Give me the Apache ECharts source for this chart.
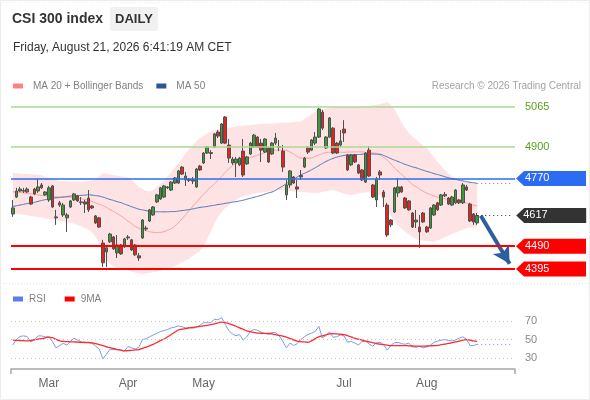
<!DOCTYPE html>
<html>
<head>
<meta charset="utf-8">
<title>CSI 300 index</title>
<script src="https://cdn.jsdelivr.net/npm/echarts@6.0.0/dist/echarts.min.js"></script>
<style>
  html, body { margin: 0; padding: 0; background: #fff; }
  #chart { width: 590px; height: 400px; }
</style>
</head>
<body>
<div id="chart"></div>
<script>
// calendar: trading days from the first bar, exchange holidays skipped, 10 blank days on the right
const firstDay = '2026-02-06'
const dayCount = 140
const holidays = ['2026-02-16', '2026-02-17', '2026-02-18', '2026-02-19', '2026-02-20', '2026-02-23',
  '2026-04-06', '2026-05-01', '2026-05-04', '2026-05-05', '2026-06-19']
const monthTicks = ['Mar', 'Apr', 'May', 'Jul', 'Aug']

// daily bars
const opens = [4623, 4693, 4718, 4720, 4714, 4693, 4726, 4718, 4743, 4702,
  4681, 4739, 4611, 4669, 4619, 4607, 4652, 4681, 4698, 4673,
  4673, 4689, 4656, 4615, 4607, 4503, 4466, 4508, 4528, 4462,
  4495, 4487, 4524, 4516, 4495, 4450, 4524, 4561, 4594, 4619,
  4673, 4685, 4693, 4731, 4722, 4751, 4751, 4817, 4764, 4766,
  4759, 4735, 4821, 4834, 4875, 4877, 4900, 4962, 4916, 5024,
  4908, 4834, 4834, 4826, 4883, 4830, 4871, 4900, 4941, 4916,
  4879, 4896, 4871, 4916, 4902, 4883, 4702, 4743, 4776, 4735,
  4776, 4817, 4896, 4887, 4916, 4941, 5044, 4896, 4941, 4978,
  4916, 4908, 4974, 4867, 4826, 4867, 4826, 4805, 4755, 4887,
  4743, 4681, 4797, 4714, 4660, 4598, 4631, 4710, 4735, 4689,
  4677, 4627, 4590, 4569, 4627, 4569, 4565, 4619, 4669, 4660,
  4698, 4689, 4660, 4669, 4681, 4669, 4735, 4664, 4623, 4586]
const closes = [4648, 4718, 4726, 4717, 4726, 4664, 4706, 4735, 4731, 4714,
  4731, 4652, 4607, 4660, 4660, 4619, 4677, 4706, 4677, 4670,
  4664, 4640, 4648, 4586, 4569, 4421, 4483, 4540, 4479, 4495,
  4458, 4520, 4528, 4474, 4454, 4441, 4598, 4565, 4640, 4652,
  4702, 4731, 4739, 4735, 4755, 4772, 4801, 4788, 4780, 4762,
  4764, 4809, 4805, 4875, 4900, 4873, 4954, 4945, 4995, 4916,
  4854, 4850, 4850, 4854, 4784, 4859, 4916, 4949, 4900, 4887,
  4933, 4838, 4916, 4937, 4898, 4817, 4743, 4801, 4751, 4726,
  4782, 4854, 4879, 4929, 4941, 5057, 4978, 4941, 5020, 4875,
  4875, 4925, 4958, 4805, 4867, 4838, 4792, 4764, 4875, 4780,
  4693, 4768, 4784, 4693, 4536, 4578, 4731, 4735, 4714, 4648,
  4640, 4569, 4598, 4549, 4590, 4549, 4648, 4660, 4640, 4702,
  4704, 4664, 4693, 4722, 4669, 4743, 4722, 4594, 4590, 4617]
const lows = [4611, 4689, 4714, 4710, 4710, 4660, 4702, 4710, 4726, 4698,
  4673, 4648, 4578, 4652, 4611, 4549, 4648, 4677, 4673, 4660,
  4627, 4631, 4644, 4582, 4565, 4404, 4404, 4503, 4474, 4441,
  4454, 4483, 4516, 4470, 4450, 4429, 4520, 4553, 4590, 4615,
  4669, 4681, 4689, 4726, 4718, 4747, 4747, 4784, 4739, 4755,
  4747, 4731, 4801, 4830, 4871, 4850, 4896, 4937, 4912, 4912,
  4834, 4826, 4776, 4821, 4776, 4826, 4867, 4896, 4896, 4838,
  4875, 4834, 4867, 4908, 4883, 4797, 4681, 4731, 4747, 4689,
  4764, 4813, 4871, 4883, 4908, 4937, 4970, 4892, 4937, 4871,
  4871, 4900, 4921, 4801, 4821, 4834, 4788, 4759, 4751, 4776,
  4689, 4652, 4764, 4652, 4528, 4569, 4627, 4693, 4710, 4644,
  4636, 4565, 4565, 4483, 4586, 4545, 4561, 4615, 4636, 4656,
  4693, 4660, 4656, 4664, 4664, 4664, 4718, 4590, 4578, 4578]
const highs = [4681, 4731, 4735, 4731, 4733, 4698, 4731, 4768, 4751, 4718,
  4739, 4743, 4640, 4677, 4669, 4627, 4681, 4710, 4702, 4693,
  4681, 4722, 4660, 4619, 4611, 4516, 4495, 4545, 4532, 4536,
  4499, 4524, 4536, 4520, 4499, 4462, 4602, 4574, 4644, 4656,
  4706, 4735, 4743, 4739, 4759, 4776, 4805, 4821, 4797, 4772,
  4776, 4813, 4826, 4879, 4904, 4887, 4958, 4970, 4999, 5028,
  4933, 4859, 4859, 4859, 4933, 4863, 4921, 4954, 4945, 4933,
  4937, 4900, 4921, 4958, 4929, 4908, 4764, 4805, 4780, 4764,
  4805, 4859, 4904, 4933, 4962, 5061, 5053, 4945, 5024, 4982,
  4921, 4970, 5011, 4871, 4871, 4871, 4830, 4809, 4879, 4904,
  4747, 4776, 4805, 4722, 4669, 4602, 4735, 4772, 4739, 4693,
  4681, 4631, 4640, 4619, 4631, 4574, 4652, 4664, 4673, 4706,
  4714, 4693, 4698, 4726, 4685, 4751, 4743, 4669, 4627, 4627]

// overlays
const ma20 = [4715, 4713, 4712, 4710, 4708, 4706, 4705, 4702, 4700, 4698,
  4696, 4695, 4694, 4694, 4693, 4693, 4692, 4691, 4688, 4686,
  4683, 4681, 4675, 4669, 4663, 4657, 4650, 4641, 4633, 4624,
  4615, 4605, 4593, 4583, 4572, 4564, 4559, 4554, 4550, 4547,
  4546, 4547, 4550, 4556, 4562, 4573, 4587, 4603, 4620, 4638,
  4655, 4672, 4689, 4705, 4720, 4734, 4748, 4762, 4778, 4795,
  4810, 4822, 4833, 4841, 4847, 4852, 4857, 4861, 4866, 4871,
  4876, 4881, 4885, 4887, 4887, 4887, 4885, 4879, 4871, 4861,
  4854, 4854, 4854, 4855, 4861, 4867, 4872, 4877, 4878, 4878,
  4878, 4878, 4878, 4879, 4879, 4880, 4880, 4880, 4878, 4876,
  4875, 4874, 4867, 4857, 4845, 4830, 4814, 4800, 4786, 4773,
  4759, 4745, 4736, 4726, 4717, 4709, 4703, 4698, 4692, 4688,
  4686, 4683, 4682, 4680, 4677, 4673, 4669, 4664, 4660, 4656]
const ma50 = [4654, 4657, 4660, 4663, 4666, 4668, 4671, 4675, 4679, 4682,
  4686, 4688, 4690, 4691, 4693, 4695, 4697, 4698, 4699, 4700,
  4701, 4702, 4701, 4699, 4697, 4693, 4688, 4683, 4679, 4674,
  4670, 4664, 4659, 4653, 4648, 4643, 4640, 4637, 4634, 4633,
  4632, 4632, 4632, 4632, 4633, 4633, 4635, 4637, 4639, 4641,
  4644, 4647, 4650, 4652, 4654, 4657, 4659, 4662, 4664, 4667,
  4669, 4672, 4674, 4677, 4680, 4684, 4688, 4692, 4696, 4700,
  4705, 4710, 4714, 4721, 4730, 4739, 4749, 4759, 4767, 4776,
  4785, 4791, 4798, 4806, 4814, 4823, 4832, 4840, 4847, 4853,
  4858, 4862, 4865, 4867, 4868, 4869, 4869, 4870, 4871, 4871,
  4871, 4870, 4870, 4865, 4859, 4852, 4846, 4840, 4834, 4828,
  4823, 4818, 4814, 4809, 4804, 4799, 4795, 4790, 4786, 4782,
  4777, 4773, 4769, 4766, 4763, 4760, 4757, 4754, 4752, 4750]
const bbUpper = [4793, 4791, 4790, 4789, 4788, 4787, 4786, 4785, 4783, 4778,
  4773, 4768, 4763, 4759, 4759, 4758, 4757, 4757, 4756, 4756,
  4757, 4759, 4762, 4764, 4778, 4791, 4789, 4786, 4783, 4781,
  4779, 4776, 4773, 4764, 4749, 4735, 4726, 4720, 4716, 4722,
  4735, 4749, 4759, 4778, 4797, 4815, 4834, 4852, 4873, 4892,
  4908, 4923, 4937, 4947, 4956, 4964, 4969, 4973, 4977, 4978,
  4980, 4982, 4985, 4987, 4987, 4989, 4991, 4992, 4994, 4995,
  4996, 4997, 4997, 4998, 4999, 5000, 5000, 5001, 5002, 5003,
  5005, 5015, 5026, 5036, 5047, 5055, 5058, 5059, 5060, 5062,
  5063, 5065, 5065, 5065, 5065, 5065, 5065, 5067, 5069, 5071,
  5073, 5075, 5077, 5082, 5086, 5075, 5057, 5028, 5001, 4978,
  4958, 4943, 4931, 4918, 4906, 4896, 4877, 4859, 4838, 4821,
  4805, 4790, 4778, 4772, 4766, 4759, 4755, 4752, 4749, 4747]
const bbLower = [4627, 4624, 4622, 4620, 4618, 4615, 4613, 4611, 4608, 4605,
  4603, 4600, 4598, 4595, 4593, 4590, 4587, 4583, 4577, 4571,
  4565, 4560, 4547, 4528, 4503, 4466, 4433, 4417, 4406, 4402,
  4397, 4393, 4389, 4384, 4381, 4377, 4375, 4377, 4380, 4382,
  4384, 4388, 4392, 4396, 4402, 4408, 4415, 4423, 4430, 4439,
  4450, 4460, 4470, 4491, 4518, 4551, 4584, 4609, 4631, 4648,
  4660, 4671, 4681, 4691, 4695, 4700, 4704, 4707, 4710, 4712,
  4714, 4716, 4718, 4720, 4722, 4721, 4720, 4718, 4717, 4715,
  4714, 4713, 4712, 4711, 4710, 4711, 4714, 4717, 4720, 4722,
  4718, 4712, 4707, 4704, 4702, 4705, 4708, 4710, 4713, 4712,
  4708, 4705, 4702, 4669, 4634, 4614, 4594, 4575, 4561, 4550,
  4540, 4529, 4519, 4515, 4512, 4511, 4509, 4508, 4514, 4520,
  4527, 4534, 4540, 4546, 4553, 4558, 4565, 4567, 4568, 4569]

// RSI panel
const rsi = [44, 50, 53.5, 54, 53.3, 47.5, 50, 54, 54, 52.9,
  53, 48, 41, 43.5, 46, 44, 48, 51.5, 49.5, 47.5,
  47, 47.3, 46, 42.8, 40, 29, 34, 39.5, 39, 39,
  39, 37.5, 42.5, 41, 39.8, 41.5, 50, 50.8, 53, 55,
  56.7, 58.7, 59.8, 61, 62.7, 63.5, 64.8, 64, 62.7, 63,
  62.3, 63.3, 65.8, 68.4, 68.3, 68.5, 72, 71.5, 74, 66.5,
  60, 56, 54.2, 55.4, 49.5, 53, 59, 61, 60, 58,
  56.5, 56, 57.8, 57.5, 54, 48, 41, 46.3, 43.5, 45.5,
  50, 53, 55.5, 57, 58.8, 64.5, 51.8, 54.5, 58.5, 52.5,
  53.2, 55, 54, 47.2, 48, 46.3, 44, 47.8, 48.5, 45,
  42.8, 46.5, 47.2, 44.5, 38.5, 43.5, 46.6, 47, 45.5, 45,
  46.3, 42, 41.7, 42.5, 41, 42, 44, 47, 48.3, 49.4,
  49.9, 49, 48.5, 49.6, 51.5, 53, 50.5, 43.5, 43.5, 45]
const rsiMa = [49.3, 49.2, 49, 48.8, 48.5, 49, 49.8, 50.4, 51, 51.8,
  52.7, 52, 50.3, 48.8, 48, 47.8, 47.6, 47.5, 47.2, 47,
  46.8, 46.6, 46.4, 45.5, 44.5, 43.3, 42.2, 41.2, 40.3, 39.2,
  38.5, 37.7, 38, 38.3, 38.7, 39.2, 40.5, 41.8, 43.2, 44.8,
  46.8, 48.9, 50.6, 53, 55.5, 58, 60.4, 61.3, 62, 62.7,
  63.3, 63.8, 64.3, 64.9, 65.5, 66.3, 67.2, 68.1, 69, 68.5,
  67.3, 66, 64.5, 62.8, 61.2, 59.5, 58.6, 57.7, 57.1, 56.9,
  56.8, 56.6, 56.1, 55.3, 54.5, 53.7, 52.7, 51, 49.8, 48.3,
  47.8, 47.4, 47.1, 48.6, 51, 53, 54.1, 55.1, 56.2, 56.4,
  56.2, 55.8, 55.5, 54.3, 53, 51.4, 50.4, 49.4, 48.4, 47.6,
  46.8, 45.6, 45, 44.5, 44, 43.5, 43.5, 43.5, 43.5, 43.5,
  43.2, 43, 42.9, 42.8, 42.8, 43, 43.2, 43.4, 43.7, 44.4,
  45.1, 45.8, 46.6, 47.4, 48.3, 49.3, 49.9, 49.3, 48.6, 48]
const rsiLevels = [30, 50, 70]

// analyst levels
const resistLevels = [5065, 4900]
const pivotLevel = 4770
const supportLevels = [4490, 4395]
const targetLevel = 4405 // where the arrow points

const monthNames = ['Jan', 'Feb', 'Mar', 'Apr', 'May', 'Jun', 'Jul', 'Aug', 'Sep', 'Oct', 'Nov', 'Dec']

function tradingDays (start, count) {
  const out = []
  const d = new Date(start + 'T00:00:00Z')
  while (out.length < count) {
    const s = d.toISOString().slice(0, 10)
    const wd = d.getUTCDay()
    if (wd !== 0 && wd !== 6 && holidays.indexOf(s) < 0) out.push(s)
    d.setUTCDate(d.getUTCDate() + 1)
  }
  return out
}

const days = tradingDays(firstDay, dayCount)
const last = closes.length - 1
const lastClose = closes[last]

function monthOf (day) {
  return monthNames[+day.slice(5, 7) - 1]
}
function isMonthTick (i) {
  return i > 0 && days[i].slice(5, 7) !== days[i - 1].slice(5, 7) && monthTicks.indexOf(monthOf(days[i])) >= 0
}

const bars = opens.map((o, i) => [o, closes[i], lows[i], highs[i]])
const bandWidth = bbUpper.map((u, i) => u - bbLower[i])

const font = 'Liberation Sans, Arial, sans-serif'
const tagPath = 'path://M0,7.5L8,0L70,0L70,15L8,15Z'

// a level line across the whole grid, with or without a price tag at its right end
function levelLine (value, color, width, tagged) {
  return [
    {
      coord: [-Infinity, value],
      lineStyle: { color: color, width: width, type: 'solid', opacity: 1 },
      label: { formatter: String(value), color: tagged ? '#fff' : '#5ca122' }
    },
    tagged ? { coord: [Infinity, value] } : { coord: [Infinity, value], symbol: 'none' }
  ]
}

const myChart = echarts.init(document.getElementById('chart'), null, { renderer: 'canvas' })

const option = {
  animation: false,
  backgroundColor: '#fff',
  textStyle: { fontFamily: font },
  title: [
    {
      text: '{t|CSI 300 index}{d|DAILY}',
      left: 12,
      top: 7,
      padding: 0,
      textStyle: {
        rich: {
          t: { fontSize: 14, fontWeight: 'bold', color: '#333', fontFamily: font, padding: [0, 7, 0, 0] },
          d: { fontSize: 13, color: '#333', fontFamily: font, backgroundColor: '#f1f1f1', padding: [6, 5, 5, 5], borderRadius: 2 }
        }
      }
    },
    {
      text: 'Friday, August 21, 2026 6:41:19 AM CET',
      left: 13,
      top: 42,
      padding: 0,
      textStyle: { fontSize: 12, fontWeight: 'normal', color: '#333', fontFamily: font }
    },
    {
      text: 'Research © 2026 Trading Central',
      right: 9,
      top: 81,
      padding: 0,
      textStyle: { fontSize: 10, fontWeight: 'normal', color: '#a3a3a3', fontFamily: font }
    }
  ],
  legend: [
    {
      left: 13,
      top: 81,
      padding: 0,
      icon: 'rect',
      itemWidth: 10,
      itemHeight: 5,
      itemGap: 13,
      selectedMode: false,
      textStyle: { fontSize: 10, color: '#808080', fontFamily: font, padding: [0, 0, 0, 5] },
      data: [
        { name: 'MA 20 + Bollinger Bands', itemStyle: { color: '#ff8080' } },
        { name: 'MA 50', itemStyle: { color: '#2f5597' } }
      ]
    },
    {
      left: 13,
      top: 294,
      padding: 0,
      icon: 'rect',
      itemWidth: 10,
      itemHeight: 5,
      itemGap: 19,
      selectedMode: false,
      textStyle: { fontSize: 10, color: '#808080', fontFamily: font, padding: [0, 0, 0, 1] },
      data: [
        { name: 'RSI', itemStyle: { color: '#5b7fe0' } },
        { name: '9MA', itemStyle: { color: '#ff0000' } }
      ]
    }
  ],
  grid: [
    { left: 11, right: 75, top: 95, height: 185, outerBoundsMode: 'none' },
    { left: 11, right: 75, top: 312, height: 57, outerBoundsMode: 'none' }
  ],
  xAxis: [
    { type: 'category', gridIndex: 0, data: days, boundaryGap: true, show: false },
    {
      type: 'category',
      gridIndex: 1,
      data: days,
      boundaryGap: true,
      axisLine: { lineStyle: { color: '#a6a6a6', width: 1.5 } },
      axisTick: { show: true, interval: i => i === 0, length: 5, lineStyle: { color: '#a6a6a6', width: 1.5 } },
      axisLabel: {
        interval: i => isMonthTick(i),
        formatter: v => monthOf(v),
        color: '#666',
        fontSize: 12,
        fontFamily: font,
        margin: 9
      },
      splitLine: { show: false }
    }
  ],
  yAxis: [
    { type: 'value', gridIndex: 0, min: 4350, max: 5115, show: false, splitLine: { show: false } },
    { type: 'value', gridIndex: 1, min: 18, max: 80, show: false, splitLine: { show: false } }
  ],
  series: [
    // Bollinger bands: invisible lower edge plus the stacked band width
    {
      name: 'bbLower',
      type: 'line',
      xAxisIndex: 0,
      yAxisIndex: 0,
      data: bbLower,
      stack: 'band',
      symbol: 'none',
      lineStyle: { opacity: 0 },
      z: 1
    },
    {
      name: 'bbBand',
      type: 'line',
      xAxisIndex: 0,
      yAxisIndex: 0,
      data: bandWidth,
      stack: 'band',
      symbol: 'none',
      lineStyle: { opacity: 0 },
      areaStyle: { color: '#fde3e3', opacity: 1 },
      z: 1
    },
    {
      name: 'MA 20 + Bollinger Bands',
      type: 'line',
      xAxisIndex: 0,
      yAxisIndex: 0,
      data: ma20,
      symbol: 'none',
      smooth: true,
      itemStyle: { color: '#ff8080' },
      lineStyle: { color: '#ff9c9c', width: 1 },
      z: 2
    },
    {
      name: 'MA 50',
      type: 'line',
      xAxisIndex: 0,
      yAxisIndex: 0,
      data: ma50,
      symbol: 'none',
      smooth: true,
      itemStyle: { color: '#2f5597' },
      lineStyle: { color: '#4f72b5', width: 1 },
      z: 2,
      markLine: {
        silent: true,
        symbol: ['none', 'none'],
        label: { show: false },
        data: [
          [
            { coord: [last, ma50[last]], lineStyle: { color: '#8a8a8a', width: 1, type: [1, 3] } },
            { coord: [dayCount - 1, ma50[last]] }
          ],
          [
            { coord: [last + 1, lastClose - 1], lineStyle: { color: '#2d5f9f', width: 4, type: 'solid' } },
            { coord: [dayCount - 2, targetLevel + 12], symbol: 'arrow', symbolSize: [14, 17] }
          ]
        ]
      }
    },
    {
      name: 'CSI 300',
      type: 'candlestick',
      xAxisIndex: 0,
      yAxisIndex: 0,
      data: bars,
      barWidth: 3,
      itemStyle: {
        color: '#3c9a34',
        color0: '#e8221d',
        borderColor: '#505050',
        borderColor0: '#505050',
        borderWidth: 1
      },
      z: 3,
      markLine: {
        silent: true,
        symbol: ['none', tagPath],
        symbolSize: [70, 15],
        symbolOffset: [[0, 0], [36, 0]],
        symbolRotate: [0, 0],
        label: { position: 'end', distance: 10, color: '#fff', fontSize: 11, fontFamily: font },
        data: [
          ...resistLevels.map(v => levelLine(v, '#abd890', 1.5, false)),
          levelLine(pivotLevel, '#2b6cf2', 1.5, true),
          ...supportLevels.map(v => levelLine(v, '#ff0000', 2, true)),
          [
            {
              coord: [last, lastClose],
              lineStyle: { color: '#333', width: 1, type: [1, 3] },
              label: { formatter: String(lastClose) }
            },
            { coord: [dayCount - 1, lastClose], symbolOffset: [38, 0] }
          ]
        ]
      }
    },
    {
      name: 'RSI',
      type: 'line',
      xAxisIndex: 1,
      yAxisIndex: 1,
      data: rsi,
      symbol: 'none',
      itemStyle: { color: '#5b7fe0' },
      lineStyle: { color: '#7d9cf0', width: 1 },
      z: 3,
      markLine: {
        silent: true,
        symbol: 'none',
        label: { show: false },
        lineStyle: { color: '#7d9cf0', width: 1, type: [1, 3] },
        data: [[{ coord: [last, rsi[last]] }, { coord: [dayCount - 1, rsi[last]] }]]
      }
    },
    {
      name: '9MA',
      type: 'line',
      xAxisIndex: 1,
      yAxisIndex: 1,
      data: rsiMa,
      symbol: 'none',
      smooth: true,
      itemStyle: { color: '#ff0000' },
      lineStyle: { color: '#ff2a2a', width: 1.3 },
      z: 4,
      markLine: {
        silent: true,
        symbol: 'none',
        lineStyle: { color: '#c4c4c4', width: 1, type: [1, 3] },
        label: { position: 'end', distance: 10, color: '#8a8a8a', fontSize: 11, fontFamily: font },
        data: rsiLevels.map(v => ({ yAxis: v }))
      }
    }
  ],
  graphic: [
    { type: 'line', silent: true, shape: { x1: 0, y1: 283.5, x2: 590, y2: 283.5 }, style: { stroke: '#e2e2e2', lineDash: [1, 2] } },
    { type: 'line', silent: true, shape: { x1: 0, y1: 2.5, x2: 590, y2: 2.5 }, style: { stroke: '#ececec', lineDash: [1, 2] } },
    { type: 'rect', silent: true, shape: { x: 0.5, y: 0.5, width: 589, height: 399 }, style: { fill: 'none', stroke: '#ececec' } }
  ]
}

myChart.setOption(option)
</script>
</body>
</html>
